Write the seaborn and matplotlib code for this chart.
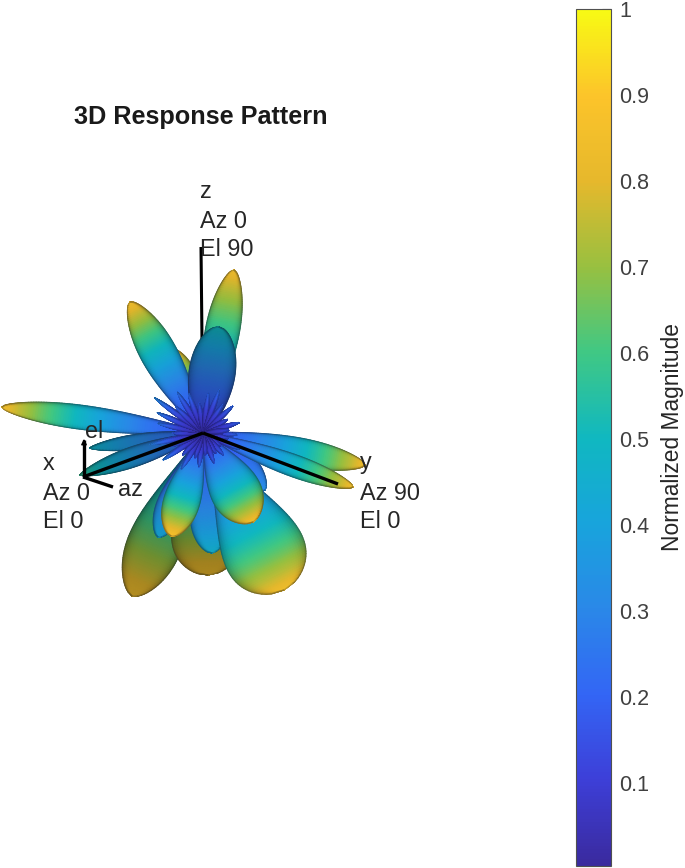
import numpy as np
import matplotlib
matplotlib.use("Agg")
import matplotlib.pyplot as plt
import seaborn as sns
from matplotlib.cm import ScalarMappable
from matplotlib.colors import Normalize

# colorbar colours, evenly spaced from 0 to 1
CBAR_COLORS = ["#3a2a9e", "#3d3fd8", "#3366f5", "#2a88e8", "#18a4dc", "#10b8c0",
               "#40c884", "#98c040", "#e6b82c", "#fcc42a", "#f8fa14"]
CBAR_TICKS = [0.1, 0.2, 0.3, 0.4, 0.5, 0.6, 0.7, 0.8, 0.9, 1]
CBAR_TICK_LABELS = ["0.1", "0.2", "0.3", "0.4", "0.5", "0.6", "0.7", "0.8", "0.9", "1"]

CENTER = (203, 433)

# big lobes, back to front
LOBE_TIP_X = [234, 172, 130, 2, 90, 80, 132, 208, 158, 212, 284, 265, 171, 253, 365, 353, 219]
LOBE_TIP_Y = [270, 349, 302, 407, 448, 475, 596, 575, 537, 553, 590, 490, 536, 522, 465, 487, 327]
LOBE_WIDTH = [34, 28, 36, 24, 15, 20, 54, 70, 30, 38, 82, 34, 36, 50, 28, 22, 46]
LOBE_PEAK = [0.84, 0.85, 0.86, 0.84, 0.48, 0.58, 0.86, 0.86, 0.42, 0.46, 0.84, 0.32, 0.88, 0.85, 0.84, 0.84, 0.5]
LOBE_BASE = [0.3, 0.35, 0.12, 0.15, 0.2, 0.2, 0.4, 0.4, 0.15, 0.15, 0.15, 0.15, 0.14, 0.14, 0.15, 0.15, 0.12]
LOBE_SKEW = [1.5, 1.5, 1.4, 1.4, 1.2, 1.2, 1.8, 2.2, 1.8, 2.0, 2.5, 1.3, 1.7, 1.7, 1.4, 1.4, 1.25]
LOBE_BLUNT = [0.6, 0.6, 0.6, 0.6, 0.7, 0.7, 0.6, 0.5, 0.6, 0.55, 0.5, 0.6, 0.55, 0.55, 0.6, 0.6, 0.5]
LOBE_DIM = [0.98, 0.98, 0.98, 1.0, 0.78, 0.78, 0.74, 0.7, 0.92, 0.95, 1.0, 1.0, 1.0, 1.0, 1.0, 1.0, 0.76]

# thin side lobes round the centre
SPIKE_ANGLE = [3, 12, 24, 36, 47, 58, 70, 84, 97, 108, 121, 133, 146, 158, 168, 180, 192, 204, 216,
               224, 238, 250, 263, 278, 291, 305, 318, 331, 344, 354]
SPIKE_LENGTH = [34, 26, 40, 22, 30, 24, 32, 22, 34, 26, 42, 30, 48, 36, 54, 30, 46, 50, 60,
                38, 48, 42, 30, 40, 46, 34, 40, 28, 38, 26]
SPIKE_PEAK = [0.22, 0.16, 0.24, 0.14, 0.2, 0.15, 0.2, 0.14, 0.22, 0.16, 0.26, 0.18, 0.28, 0.2, 0.3, 0.18,
              0.26, 0.28, 0.32, 0.22, 0.26, 0.24, 0.18, 0.22, 0.24, 0.2, 0.22, 0.16, 0.2, 0.15]

# axis lines
Z_AXIS_X = [203, 201]
Z_AXIS_Y = [433, 247]
X_AXIS_X = [203, 83]
X_AXIS_Y = [433, 477]
Y_AXIS_X = [203, 338]
Y_AXIS_Y = [433, 484]
EL_AXIS_X = [84, 84]
EL_AXIS_Y = [477, 440]
AZ_AXIS_X = [83, 113]
AZ_AXIS_Y = [477, 487]

sns.set_theme(style="white")
plt.rcParams["font.family"] = ["Liberation Sans", "DejaVu Sans"]

cmap = sns.blend_palette(CBAR_COLORS, as_cmap=True)
norm = Normalize(0.003, 1)


def draw_lobe(ax, tip_x, tip_y, width, peak, base, skew, blunt, dim, edge_alpha=0.25):
    dx = tip_x - CENTER[0]
    dy = tip_y - CENTER[1]
    length = np.hypot(dx, dy)
    ux, uy = dx / length, dy / length
    u = np.linspace(0, 1, 80)[:, None]
    v = np.linspace(-1, 1, 31)[None, :]
    half = width / 2 * np.sin(np.pi * u ** skew) ** blunt
    xs = CENTER[0] + u * dx - v * half * uy
    ys = CENTER[1] + u * dy + v * half * ux
    values = base + (peak - base) * u ** 1.5 * np.ones_like(v)
    shade = dim * (1 - 0.3 * np.abs(v) ** 6)
    rgb = cmap(norm(values))[..., :3] * shade[..., None]
    ax.pcolormesh(xs, ys, rgb, shading="gouraud", zorder=3)
    ax.plot(np.r_[xs[:, 0], xs[::-1, -1]], np.r_[ys[:, 0], ys[::-1, -1]],
            color="#1c2a3a", alpha=edge_alpha, lw=0.8, zorder=3)


def axis_line(ax, xs, ys, lw, zorder):
    sns.lineplot(x=xs, y=ys, sort=False, estimator=None, color="black", linewidth=lw,
                 ax=ax, zorder=zorder, solid_capstyle="butt")


fig = plt.figure(figsize=(6.85, 8.68), dpi=100)
ax = fig.add_axes([0, 0, 1, 1])

axis_line(ax, Z_AXIS_X, Z_AXIS_Y, 2.2, 2)
for i in range(len(LOBE_TIP_X)):
    draw_lobe(ax, LOBE_TIP_X[i], LOBE_TIP_Y[i], LOBE_WIDTH[i], LOBE_PEAK[i], LOBE_BASE[i],
              LOBE_SKEW[i], LOBE_BLUNT[i], LOBE_DIM[i])
for angle, length, peak in zip(SPIKE_ANGLE, SPIKE_LENGTH, SPIKE_PEAK):
    tip_x = CENTER[0] + length * np.cos(np.radians(angle))
    tip_y = CENTER[1] + length * np.sin(np.radians(angle))
    draw_lobe(ax, tip_x, tip_y, 4.5, peak, 0.03, 1.2, 0.8, 0.95, edge_alpha=0.1)

axis_line(ax, X_AXIS_X, X_AXIS_Y, 2.4, 5)
axis_line(ax, Y_AXIS_X, Y_AXIS_Y, 2.4, 5)
axis_line(ax, EL_AXIS_X, EL_AXIS_Y, 2.4, 5)
axis_line(ax, AZ_AXIS_X, AZ_AXIS_Y, 2.4, 5)
ax.annotate("", xy=(84, 436), xytext=(84, 446), zorder=5,
            arrowprops=dict(arrowstyle="-|>", color="black", lw=1, mutation_scale=8))

ax.set_xlim(0, 685)
ax.set_ylim(868, 0)
ax.axis("off")

ax.text(201, 117, "3D Response Pattern", fontsize=18.2, fontweight="bold",
        ha="center", va="center", color="#1a1a1a")

text_color = "#262626"
for x, lines in [(200, ["z", "Az 0", "El 90"])]:
    for y, line in zip([191, 221, 250], lines):
        ax.text(x, y, line, fontsize=16.8, ha="left", va="center", color=text_color, zorder=6)
for x, lines in [(43, ["x", "Az 0", "El 0"]), (360, ["y", "Az 90", "El 0"])]:
    for y, line in zip([463, 493, 522], lines):
        ax.text(x, y, line, fontsize=16.8, ha="left", va="center", color=text_color, zorder=6)
ax.text(85, 431, "el", fontsize=16.8, ha="left", va="center", color=text_color, zorder=6)
ax.text(118, 490, "az", fontsize=16.8, ha="left", va="center", color=text_color, zorder=6)

# colorbar
cax = fig.add_axes([576 / 685, 1 - 866 / 868, 35 / 685, 857 / 868])
cbar = fig.colorbar(ScalarMappable(norm=norm, cmap=cmap), cax=cax)
cbar.set_ticks(CBAR_TICKS, labels=CBAR_TICK_LABELS)
cbar.ax.tick_params(axis="y", direction="in", length=6.5, width=0.8, color="#404040",
                    labelcolor="#404040", labelsize=15.5, pad=6, right=True)
cbar.outline.set_edgecolor("#505050")
cbar.outline.set_linewidth(0.8)
cbar.set_label("Normalized Magnitude", fontsize=16.4, color="#262626", labelpad=8)

fig.savefig("out.png", dpi=100)
